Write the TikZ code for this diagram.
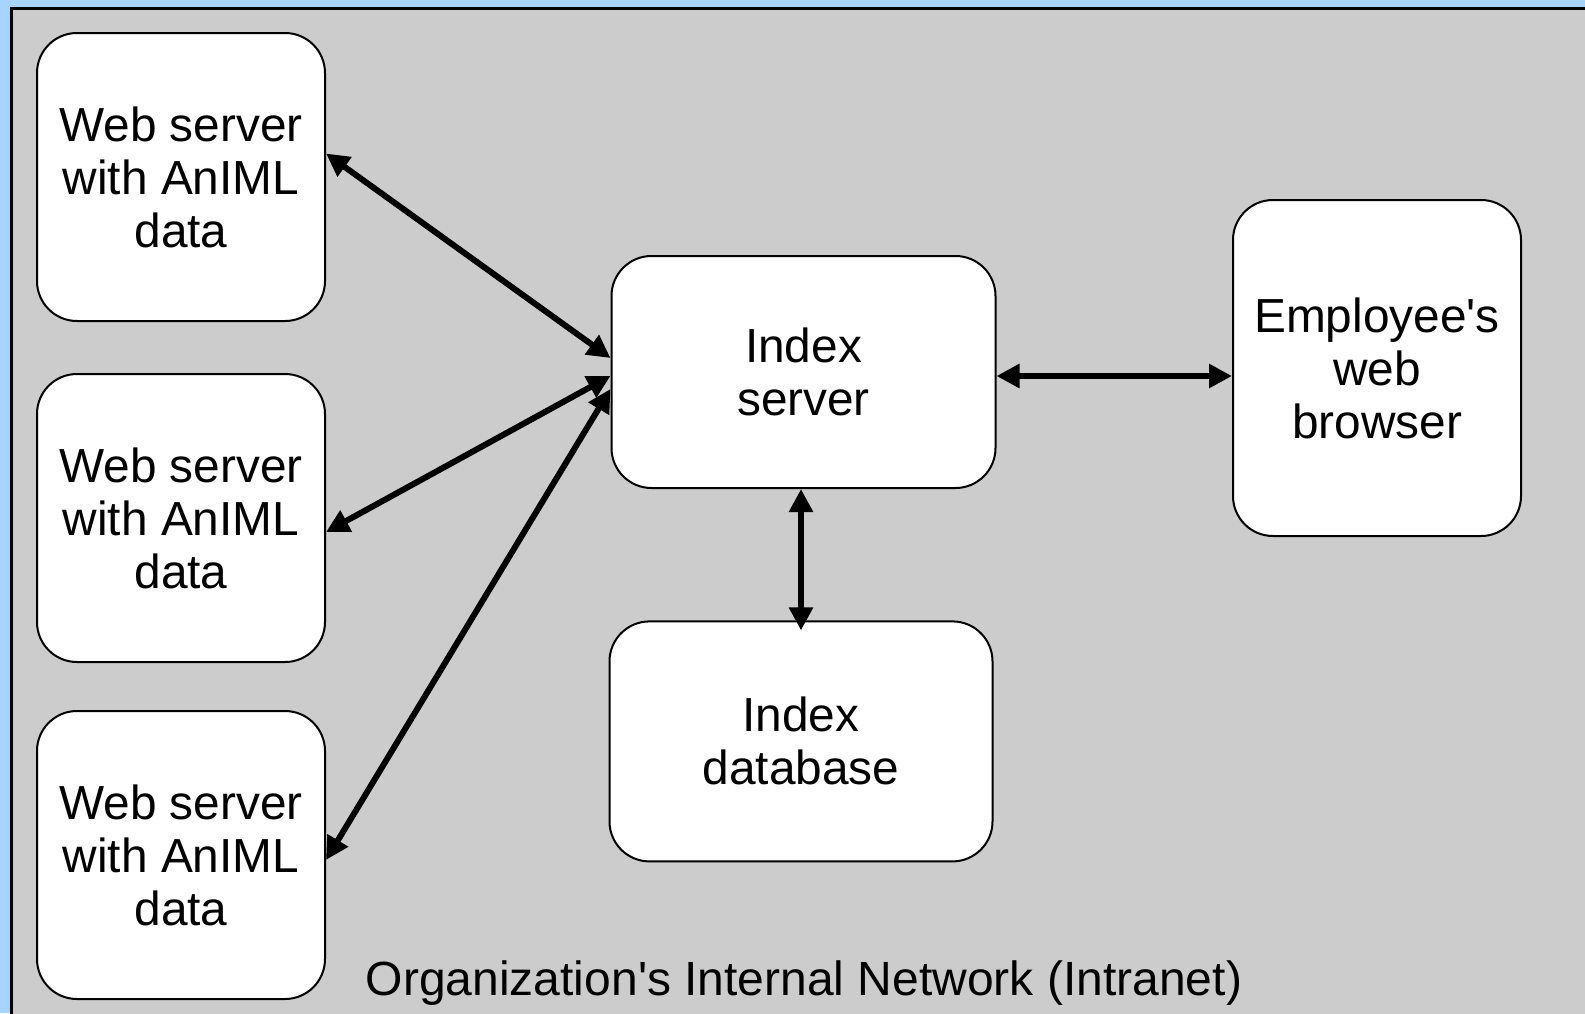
\documentclass[tikz,border=0pt]{standalone}
\usepackage{fontspec}
\setmainfont{Liberation Sans}[Ligatures=TeXOff]
\usetikzlibrary{arrows.meta}
\definecolor{bgblue}{HTML}{A6D3FF}
\definecolor{netgrey}{HTML}{CCCCCC}
\begin{document}
\begin{tikzpicture}[x=0.5pt,y=-0.5pt,
  box/.style={draw=black, line width=1pt, fill=white, rounded corners=20pt,
    align=center, inner sep=0pt,
    font=\fontsize{23.9pt}{26.5pt}\selectfont},
  link/.style={line width=3pt, {Triangle[length=11.5pt,width=11.5pt]}-{Triangle[length=11.5pt,width=11.5pt]}}]
\useasboundingbox (0,0) rectangle (1585,1013);
\fill[bgblue] (0,0) rectangle (1585,1013);
\begin{scope}
\clip (0,0) rectangle (1585,1013);
\draw[fill=netgrey, line width=1.5pt] (11,8) rectangle (1620,1040);
\end{scope}
\node[box, minimum width=144pt, minimum height=144pt] (ws1) at (181,177) {Web server\\with AnIML\\data};
\node[box, minimum width=144pt, minimum height=144pt] (ws2) at (181,518) {Web server\\with AnIML\\data};
\node[box, minimum width=144pt, minimum height=144pt] (ws3) at (181,855) {Web server\\with AnIML\\data};
\node[box, minimum width=192pt, minimum height=116pt] (idx) at (803.5,372) {Index\\server};
\node[box, minimum width=144pt, minimum height=168pt] (emp) at (1377,368) {Employee's\\web\\browser};
\node[box, minimum width=191.5pt, minimum height=120pt] (db) at (801,741.4) {Index\\database};
\node[anchor=base, inner sep=0pt, font=\fontsize{24pt}{26.5pt}\selectfont] (lbl) at (804,995) {Organization's Internal Network (Intranet)};
\draw[link] ([yshift=11.75pt]ws1.east) -- ([yshift=7pt]idx.west);
\draw[link] ([yshift=-7pt]ws2.east) -- ([yshift=-2pt]idx.west);
\draw[link] ([yshift=-2.5pt]ws3.east) -- ([yshift=-8.5pt]idx.west);
\draw[link] ([yshift=-2pt]idx.east) -- ([yshift=-4pt]emp.west);
\draw[link, shorten >=-5pt] ([xshift=-1.25pt]idx.south) -- (db.north);
\end{tikzpicture}
\end{document}
